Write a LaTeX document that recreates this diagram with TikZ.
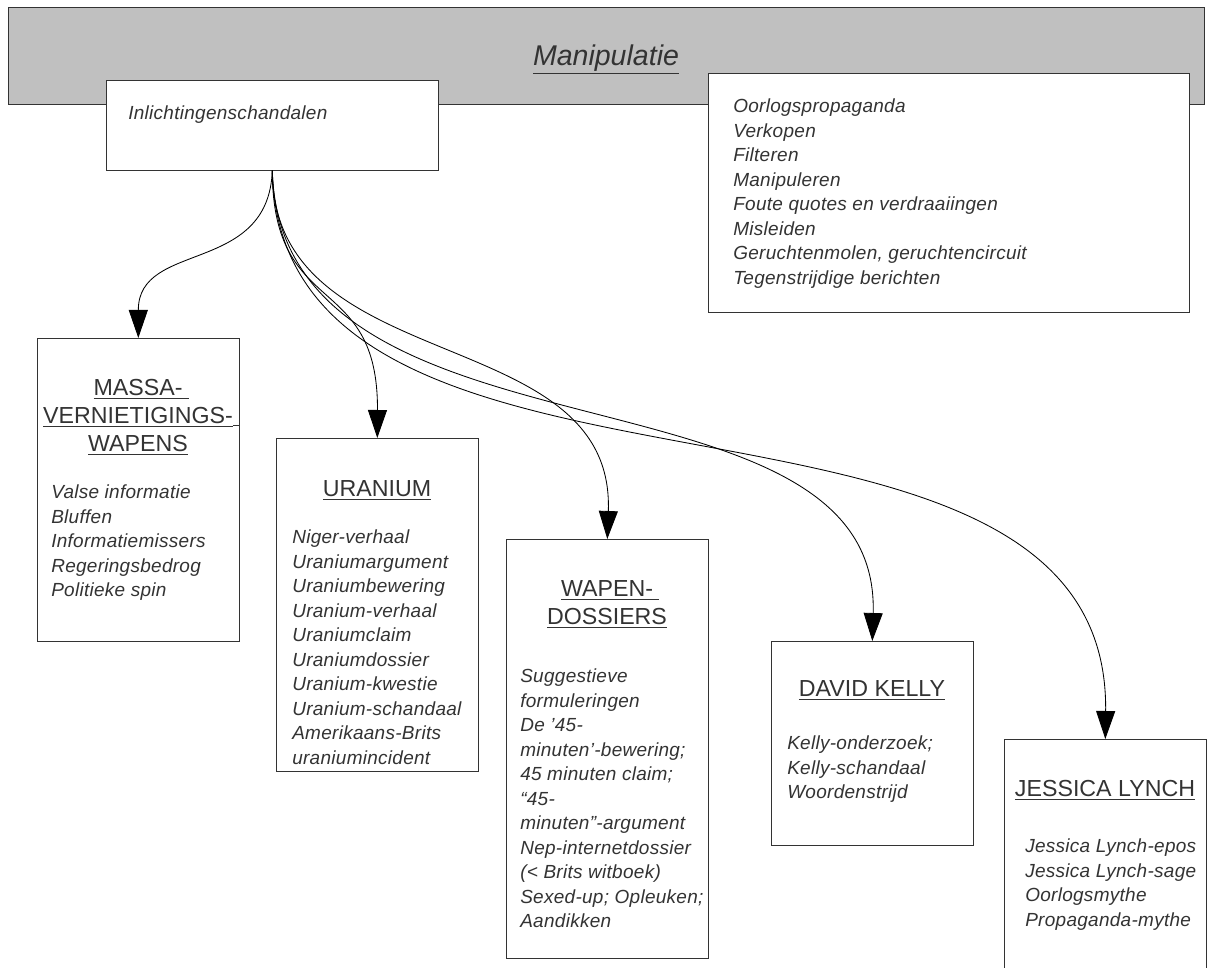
\documentclass[tikz,border=0pt]{standalone}
\usepackage{fontspec}
\setmainfont{Liberation Sans}
\newfontfamily\itemfont{Liberation Sans}[LetterSpace=1.5]
\usetikzlibrary{positioning,arrows.meta}
\definecolor{bandgray}{HTML}{C0C0C0}
\definecolor{inkgray}{HTML}{333333}
\newcommand{\ultitle}[1]{\underline{#1}\rlap{\underline{\ }}}

\begin{document}
\begin{tikzpicture}[x=0.025cm, y=-0.025cm,
					band/.style={rectangle, draw=inkgray, fill=bandgray, text=inkgray, inner sep=0pt, text depth=0pt, minimum width=29.9cm, minimum height=2.425cm},
					box/.style={rectangle, draw=inkgray, fill=white, inner sep=0pt, minimum width=5.05cm, anchor=north west},
					title/.style={align=center, inner sep=0pt, anchor=north, text=inkgray, font=\fontsize{16.5}{19.85}\selectfont},
					items/.style={align=left, inner sep=0pt, anchor=north west, text=inkgray, font=\itemfont\fontsize{13.5}{17.45}\selectfont\itshape},
					link/.style={-{Triangle[length=7mm, width=4.75mm]}, black, line width=0.6pt}
				]
				\useasboundingbox (0,0) rectangle (1209,967);
				\node[band] (manip) at (606,55.5) {\fontsize{20.3}{24}\selectfont\itshape\underline{Manipulatie}};
				\node[box, minimum width=8.3cm, minimum height=2.25cm] (scandals) at (106,80) {};
				\node[items] (scandalstext) at (128,102) {\strut Inlichtingenschandalen};
				\node[box, minimum width=12.025cm, minimum height=5.975cm] (methods) at (708,73) {};
				\node[items] (methodstext) at (733,95) {\strut Oorlogspropaganda\\ Verkopen\\ Filteren\\ Manipuleren\\ Foute quotes en verdraaiingen\\ Misleiden\\ Geruchtenmolen, geruchtencircuit\\ Tegenstrijdige berichten};
				% the five scandals
				\node[box, minimum height=7.575cm] (massa) at (37,338) {};
				\node[title] (massatitle) at (138,376) {\strut\ultitle{MASSA-}\\ \ultitle{VERNIETIGINGS-}\\ \underline{WAPENS}};
				\node[items] (massalist) at (51,481) {\strut Valse informatie\\ Bluffen\\ Informatiemissers\\ Regeringsbedrog\\ Politieke spin};
				\node[box, minimum height=8.325cm] (uranium) at (276,438) {};
				\node[title] (uraniumtitle) at (377,477) {\strut\underline{URANIUM}};
				\node[items] (uraniumlist) at (292,526) {\strut Niger-verhaal\\ Uraniumargument\\ Uraniumbewering\\ Uranium-verhaal\\ Uraniumclaim\\ Uraniumdossier\\ Uranium-kwestie\\ Uranium-schandaal\\ Amerikaans-Brits\\ uraniumincident};
				\node[box, minimum height=10.475cm] (dossiers) at (506,539) {};
				\node[title] (dossierstitle) at (607,577) {\strut\ultitle{WAPEN-}\\ \underline{DOSSIERS}};
				\node[items] (dossierslist) at (520,665) {\strut Suggestieve\\ formuleringen\\ De ’45-\\ minuten’-bewering;\\ 45 minuten claim;\\ “45-\\ minuten”-argument\\ Nep-internetdossier\\ (< Brits witboek)\\ Sexed-up; Opleuken;\\ Aandikken};
				\node[box, minimum height=5.1cm] (kelly) at (771,641) {};
				\node[title] (kellytitle) at (872,677) {\strut\underline{DAVID KELLY}};
				\node[items] (kellylist) at (787,732) {\strut Kelly-onderzoek;\\ Kelly-schandaal\\ Woordenstrijd};
				\node[box, minimum height=6.5cm] (lynch) at (1004,739) {};
				\node[title] (lynchtitle) at (1105,777) {\strut\underline{JESSICA LYNCH}};
				\node[items] (lynchlist) at (1025,835) {\strut Jessica Lynch-epos\\ Jessica Lynch-sage\\ Oorlogsmythe\\ Propaganda-mythe};
				\begin{scope}[link]
				\draw (scandals.south) .. controls +(-4,105) and +(0,-98) .. (massa.north);
				\draw (scandals.south) .. controls +(0,150) and +(1,-168) .. (uranium.north);
				\draw (scandals.south) .. controls +(0,210) and +(8,-219) .. (dossiers.north);
				\draw (scandals.south) .. controls +(8,310) and +(9,-291) .. (kelly.north);
				\draw (scandals.south) .. controls +(8,390) and +(5,-409) .. (lynch.north);
				\end{scope}
				\end{tikzpicture}
\end{document}
